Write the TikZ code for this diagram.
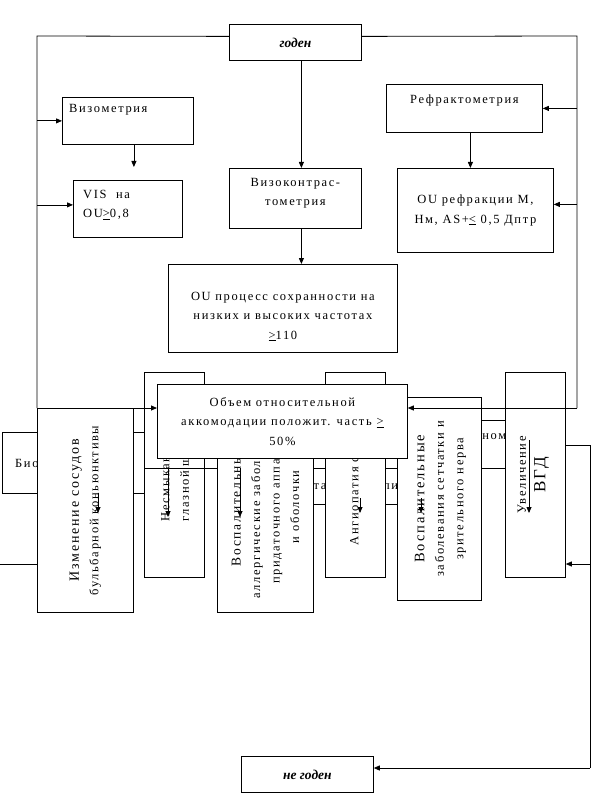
\documentclass[tikz,border=0pt]{standalone}
\usepackage{fontspec}
\setmainfont{Liberation Serif}[LetterSpace=13]
\newfontfamily\tightserif{Liberation Serif}
\usetikzlibrary{arrows.meta,calc}
\tikzset{
  box/.style={draw, line width=0.8pt, fill=white, inner sep=0pt, anchor=north west, align=center, font=\fontsize{12.5}{19.5}\selectfont},
  txt/.style={inner sep=0pt, align=center, font=\fontsize{12.5}{19.5}\selectfont},
  vtxt/.style={txt, rotate=90},
  conn/.style={line width=0.8pt},
  arr/.style={line width=0.8pt, -{Triangle[length=6pt,width=5pt]}},
  verdict/.style={font=\tightserif\fontsize{13.5}{16}\selectfont\bfseries\itshape},
}
\begin{document}
\begin{tikzpicture}[x=1pt,y=-1pt]
\fill[white] (0,0) rectangle (602,805);
\useasboundingbox (0,0) rectangle (602,805);

% ---- upper part
\node[box, verdict, minimum width=132, minimum height=36] (godn) at (229,24) {годен};
\node[box, minimum width=131, minimum height=47] (vizo) at (62,97) {};
\node[txt, anchor=west] (vizot) at ($(vizo.north west)+(7,13)$) {Визометрия};
\node[box, minimum width=156, minimum height=48] (refr) at (386,84) {};
\node[txt] (refrt) at ($(refr.north)+(0,16)$) {Рефрактометрия};
\node[box, minimum width=109, minimum height=57] (vis) at (73,180) {};
\node[txt, anchor=west, align=left] (vist) at ($(vis.west)+(10,-4)$) {VIS\ \ на\\OU\underline{>}0,8};
\node[box, minimum width=132, minimum height=60] (vkon) at (229,168) {};
\node[txt] (vkont) at ($(vkon.center)+(0,-5)$) {Визоконтрас-\\тометрия};
\node[box, minimum width=156, minimum height=84] (oure) at (397,168) {OU рефракции М,\\Нм, AS+\underline{<} 0,5 Дптр};
\node[box, minimum width=229, minimum height=88] (oupr) at (168,264) {};
\node[txt] (ouprt) at ($(oupr.center)+(0,8)$) {OU процесс сохранности на\\низких и высоких частотах\\\underline{>}110};

\coordinate (L0) at (37,36);
\coordinate (L1) at (37,408);
\coordinate (R0) at (577,36);
\coordinate (R1) at (577,408);
\coordinate (vt) at ($(vis.north)+(6,-13)$);
\coordinate (rs) at ($(refr.south)+(6,0)$);
\coordinate (gs) at ($(godn.south)+(6,0)$);
\coordinate (ks) at ($(vkon.south)+(6,0)$);
\coordinate (zs) at ($(vizo.south)+(6,0)$);

\draw[conn] ($(godn.west)+(0,-6)$) -- (L0) -- (L1);
\draw[conn] ($(godn.east)+(0,-6)$) -- (R0) -- (R1);
\draw[arr] (L0 |- vizo.west) -- (vizo.west);
\draw[arr] ($(L0 |- vis.west)+(0,-4)$) -- ($(vis.west)+(0,-4)$);
\draw[arr] (R0 |- refr.east) -- (refr.east);
\draw[arr] ($(R0 |- oure.east)+(0,-6)$) -- ($(oure.east)+(0,-6)$);
\draw[arr] (zs) -- (vt);
\draw[arr] (rs) -- (rs |- oure.north);
\draw[arr] (gs) -- (gs |- vkon.north);
\draw[arr] (ks) -- (ks |- oupr.north);

% ---- hidden row of boxes
\node[box, minimum width=178, minimum height=61] (bio) at (2,432) {};
\node[txt, anchor=west] (biot) at ($(bio.west)+(13,2)$) {Биомикроскопия};
\node[box, minimum width=130, minimum height=48] (tono) at (430,420) {};
\node[txt, anchor=west] (tonot) at ($(tono.north west)+(36,17)$) {Тонометрия};
\node[box, minimum width=245, minimum height=36] (ofta) at (225,468) {};
\node[txt, anchor=west] (oftat) at ($(ofta.west)+(68,0)$) {Офтальмоскопия};

% ---- vertical boxes
\node[box, minimum width=96, minimum height=204] (izm) at (37,408) {};
\node[vtxt] (izmt) at (izm.center) {{\fontsize{14}{19.5}\selectfont Изменение сосудов}\\бульбарной коньюнктивы};
\node[box, minimum width=60, minimum height=205] (nesm) at (144,372) {};
\node[vtxt, anchor=west, align=left] (nesmt) at ($(nesm.south)+(2,-56)$) {Несмыкание\\глазной щели};
\node[box, minimum width=96, minimum height=217] (vosa) at (217,395) {};
\node[vtxt] (vosat) at ($(vosa.center)+(0,3)$) {{\fontsize{13.5}{19.5}\selectfont Воспалительные}\\аллергические заболевания\\придаточного аппарата\\и оболочки};
\node[box, minimum width=60, minimum height=205] (angi) at (325,372) {};
\node[vtxt] (angit) at ($(angi.center)+(-1,0)$) {Ангиопатия сетчатки};
\node[box, minimum width=84, minimum height=203] (vosc) at (397,397) {};
\node[vtxt] (vosct) at ($(vosc.center)+(1,0)$) {{\fontsize{14.5}{20}\selectfont Воспалительные}\\заболевания сетчатки и\\зрительного нерва};
\node[box, minimum width=60, minimum height=205] (uvel) at (505,372) {};
\node[vtxt] (uvelt) at ($(uvel.center)+(-2,0)$) {Увеличение\\{\fontsize{17}{19.5}\selectfont ВГД}};

\draw[conn] (nesm.west |- ofta.north) -- (vosa.west |- ofta.north);

% ---- arrow ends showing through the boxes
\coordinate (a1s) at ($(izm.north west)+(61,85)$);
\coordinate (a1e) at ($(izm.north west)+(61,105)$);
\coordinate (a2s) at ($(nesm.north west)+(24,96)$);
\coordinate (a2e) at ($(nesm.north west)+(24,145)$);
\coordinate (a3s) at ($(vosa.north west)+(23,73)$);
\coordinate (a3e) at ($(vosa.north west)+(23,122)$);
\coordinate (a4s) at ($(angi.north west)+(35,126)$);
\coordinate (a4e) at ($(angi.north west)+(35,141)$);
\coordinate (a5s) at ($(vosc.north west)+(24,101)$);
\coordinate (a5e) at ($(vosc.north west)+(24,116)$);
\coordinate (a6s) at ($(uvel.north west)+(24,68)$);
\coordinate (a6e) at ($(uvel.north west)+(24,141)$);
\foreach \s/\e in {a1s/a1e,a2s/a2e,a3s/a3e,a4s/a4e,a5s/a5e,a6s/a6e}
  \draw[arr] (\s) -- (\e);

% ---- top-most box
\node[box, minimum width=250, minimum height=74] (obem) at (157,384) {Объем относительной\\аккомодации положит. часть \underline{>}\\50\%};

\draw[arr] (L1) -- (obem.west |- L1);
\draw[arr] (R1) -- (obem.east |- R1);

% ---- bottom
\node[box, verdict, minimum width=132, minimum height=36] (negd) at (241,756) {не годен};
\coordinate (R2) at (590,445);
\coordinate (R3) at (590,768);
\coordinate (R4) at (590,564);
\coordinate (L2) at (0,564);
\draw[conn] (uvel.east |- R2) -- (R2) -- (R3);
\draw[arr] (R3) -- (negd.east |- R3);
\draw[arr] (R4) -- (uvel.east |- R4);
\draw[conn] (L2) -- (izm.west |- L2);
\end{tikzpicture}
\end{document}
